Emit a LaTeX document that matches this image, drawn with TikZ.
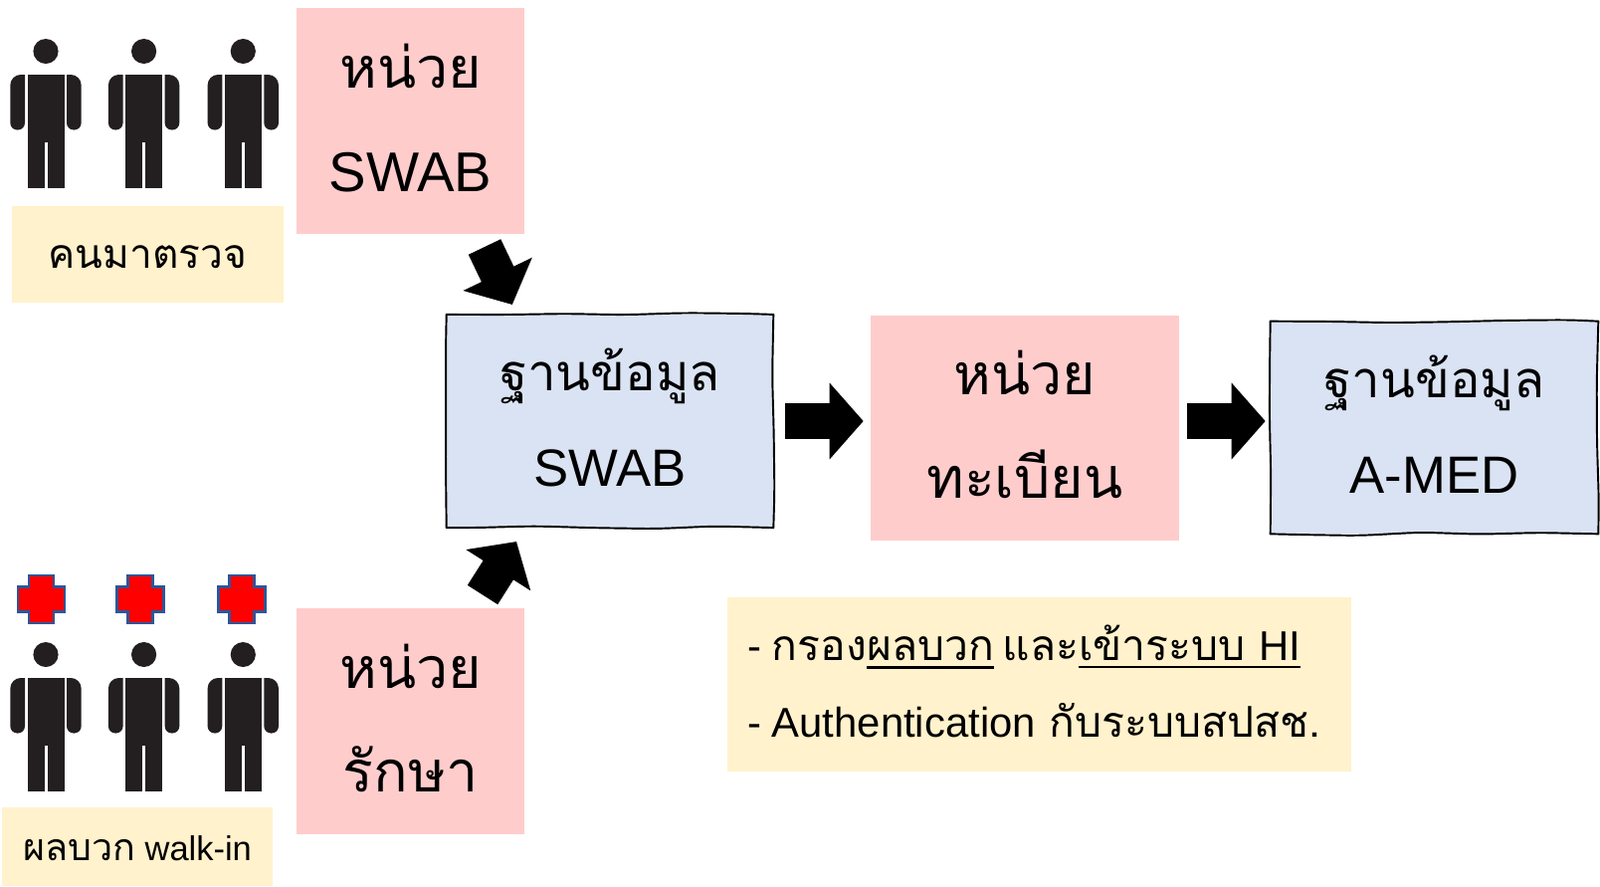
\documentclass[tikz,border=0pt]{standalone}
\usepackage{fontspec}
\setmainfont{Liberation Sans}
\newfontfamily\thaifont[Script=Thai,Scale=1.02]{Loma}
\newfontfamily\thaidb[Script=Thai,Scale=0.967]{Loma}
\usetikzlibrary{arrows.meta,decorations.pathmorphing}
\definecolor{pinkfill}{HTML}{FFCCCC}
\definecolor{notefill}{HTML}{FFF2CC}
\definecolor{dbfill}{HTML}{DAE3F3}
\definecolor{bodyink}{HTML}{231F20}
\definecolor{crossedge}{HTML}{2F5597}
\newcommand{\ulthai}[1]{\setbox0=\hbox{#1}\rlap{\rule[-0.2em]{\wd0}{0.065em}}\box0}

\begin{document}
\begin{tikzpicture}[x=0.02cm, y=-0.02cm,
    unitbox/.style={fill=pinkfill, minimum width=4.57cm, minimum height=4.54cm, align=center, text depth=4pt, font=\fontsize{32}{59}\selectfont},
    notebox/.style={fill=notefill, align=center, text height=16pt, text depth=0pt},
    dbbox/.style={fill=dbfill, minimum width=6.56cm, minimum height=4.27cm, align=center, text depth=4pt, font=\fontsize{30}{54.5}\selectfont},
    dbside/.style={line width=1.1pt, line cap=round, decorate, decoration={random steps, segment length=34pt, amplitude=1pt}, rounded corners=8pt},
    bigarrow/.style={line width=0.72cm, -{Triangle[length=0.68cm, width=1.5cm]}},
    person/.pic={
        \fill[bodyink] (0,51.5) ellipse (12.6 and 12.5);
        \fill[bodyink] (-18.5,75) rectangle (-1.5,189);
        \fill[bodyink] (1.5,75) rectangle (18.5,189);
        \fill[bodyink] (-1.6,75) rectangle (1.6,143);
        \foreach \side in {1,-1} {
            \fill[bodyink, xscale=\side, rounded corners=4pt] (21,100) -- (21,130.5) -- (35.7,130.5) [rounded corners=6pt] -- (35.7,75) [sharp corners] -- (21,75) -- cycle;
        }
    },
    redcross/.pic={
        \draw[crossedge, fill=red, line width=1.3pt] (-12.5,-24) -- (12.5,-24) -- (12.5,-12.5) -- (23.5,-12.5) -- (23.5,12.5) -- (12.5,12.5) -- (12.5,24) -- (-12.5,24) -- (-12.5,12.5) -- (-23.5,12.5) -- (-23.5,-12.5) -- (-12.5,-12.5) -- cycle;
    }]
    \useasboundingbox (0,0) rectangle (1608,890);

    % People and crosses
    \foreach \px in {46,144.6,244.3} {
        \pic at (\px,0) {person};
        \pic at (\px,606) {person};
    }
    \foreach \cx in {41.3,141,243} {
        \pic at (\cx,602) {redcross};
    }

    % Labels under the people
    \node (visitors) at (148.5,255.5) [notebox, minimum width=5.46cm, minimum height=1.94cm, font=\fontsize{22.7}{24}\selectfont] {\thaifont คนมาตรวจ};
    \node (walkin) at (138,850.5) [notebox, minimum width=5.44cm, minimum height=1.58cm, font=\fontsize{19.6}{24}\selectfont] {{\fontsize{21}{24}\selectfont\thaifont ผลบวก} walk-in};

    % The units
    \node (swabunit) at (412.7,121.5) [unitbox] {{\thaifont หน่วย}\\SWAB};
    \node (careunit) at (412.7,724.5) [unitbox] {\thaifont หน่วย\\\thaifont รักษา};
    \node (regunit) at (1030,430) [unitbox, minimum width=6.2cm, minimum height=4.52cm] {\thaifont หน่วย\\\thaifont ทะเบียน};

    % The databases
    \node (swabdb) at (613,423) [dbbox] {{\thaidb ฐานข้อมูล}\\SWAB};
    \node (amed) at (1441.5,429.5) [dbbox, minimum width=6.58cm, minimum height=4.26cm] {{\thaidb ฐานข้อมูล}\\A-MED};
    \foreach \db in {swabdb,amed} {
        \foreach \sidea/\sideb in {north west/north east, north east/south east, south east/south west, south west/north west} {
            \draw[dbside] (\db.\sidea) -- (\db.\sideb);
        }
    }

    % The note
    \node (filter) at (1044.5,687.5) [fill=notefill, minimum width=12.54cm, minimum height=3.5cm, inner xsep=0.4cm, text width=11.74cm, align=left, text height=20pt, text depth=47.9pt, font=\fontsize{23.8}{44}\selectfont] {-\hspace{0.26em}{\thaifont กรอง\ulthai{ผลบวก}\hspace{0.2em}และ}\ulthai{{\thaifont เข้าระบบ} HI}\\-\hspace{0.26em}Authentication {\thaifont กับระบบสปสช.}};

    % Arrows
    \coordinate (swabout) at (487,248);
    \coordinate (swabin) at (514.8,306);
    \coordinate (careout) at (485,597.5);
    \coordinate (carein) at (519,544);
    \draw[bigarrow] (swabout) -- (swabin);
    \draw[bigarrow] (careout) -- (carein);
    \draw[bigarrow, shorten <=0.24cm, shorten >=0.14cm] (swabdb.east) -- (regunit.west |- swabdb.east);
    \draw[bigarrow, shorten <=0.16cm, shorten >=0.1cm] (regunit.east |- swabdb.east) -- (amed.west |- swabdb.east);
\end{tikzpicture}
\end{document}
